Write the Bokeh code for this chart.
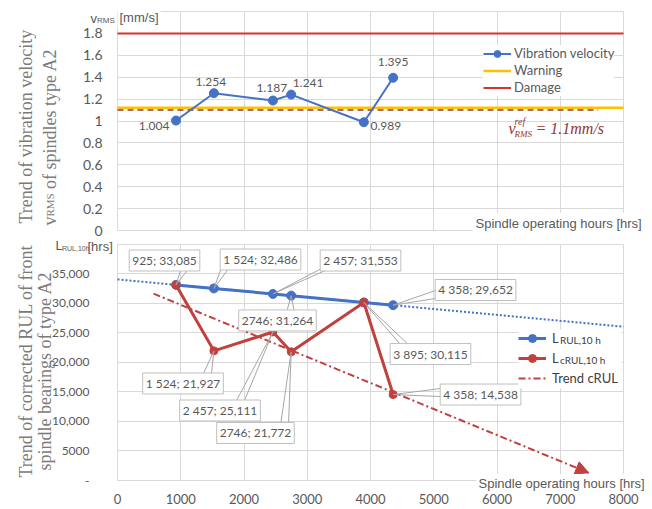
import math
from bokeh.plotting import figure
from bokeh.layouts import column
from bokeh.models import (Range1d, FixedTicker, Label, Legend, LegendItem,
                          Arrow, NormalHead, BoxAnnotation)
from bokeh.embed import file_html
from bokeh.resources import INLINE
from bokeh.core.properties import value

# ---------------- data ----------------
hours = [925, 1524, 2457, 2746, 3895, 4358]
v_rms = [1.004, 1.254, 1.187, 1.241, 0.989, 1.395]
v_rms_labels = ["1.004", "1.254", "1.187", "1.241", "0.989", "1.395"]
warning_level = 1.12
damage_level = 1.8
ref_level = 1.1
ref_line_end = 7600

l_rul = [33085, 32486, 31553, 31264, 30115, 29652]
l_crul = [33085, 21927, 25111, 21772, 30115, 14538]
l_rul_labels = ["925; 33,085", "1 524; 32,486", "2 457; 31,553",
                "2746; 31,264", "3 895; 30,115", "4 358; 29,652"]
l_crul_label_idx = [1, 2, 3, 5]
l_crul_labels = ["1 524; 21,927", "2 457; 25,111", "2746; 21,772", "4 358; 14,538"]
rul_trend_hours = [0, 8000]
rul_trend = [34010, 26010]
crul_trend_hours = [570, 7450]
crul_trend = [31600, 1300]

hour_ticks = [0, 1000, 2000, 3000, 4000, 5000, 6000, 7000, 8000]
hour_tick_labels = ["0", "1000", "2000", "3000", "4000", "5000", "6000", "7000", "8000"]
v_ticks = [0, 0.2, 0.4, 0.6, 0.8, 1.0, 1.2, 1.4, 1.6, 1.8]
v_tick_labels = ["0", "0.2", "0.4", "0.6", "0.8", "1", "1.2", "1.4", "1.6", "1.8"]
v_max = 2.0
rul_ticks = [0, 5000, 10000, 15000, 20000, 25000, 30000, 35000]
rul_tick_labels = ["-", "5000", "10,000", "15,000", "20,000", "25,000", "30,000", "35,000"]
rul_max = 40000

# ---------------- styles / layout (pixels) ----------------
BLUE = "#4472c4"
RED = "#c0413e"
YELLOW = "#ffc000"
DAMAGE = "#d9342b"
REFC = "#953735"
GRID = "#d9d9d9"
TXT = "#595959"
TITLE = "#7a7a7a"
W = 652
TOP_H = 238
BOT_H = 271
PX_X0, PX_X1 = 117, 623          # x = 0 and x = 8000
TOP_PY0, TOP_PY1 = 230, 11       # v = 0 and v = v_max (page y)
BOT_PY0, BOT_PY1 = 480, 243.5    # L = 0 and L = rul_max (page y)

kx = (hour_ticks[-1] - hour_ticks[0]) / (PX_X1 - PX_X0)
ky1 = v_max / (TOP_PY0 - TOP_PY1)
ky2 = rul_max / (BOT_PY0 - BOT_PY1)
x_rng = (hour_ticks[0] - PX_X0 * kx, hour_ticks[0] + (W - PX_X0) * kx)
top_rng = (-(TOP_H - TOP_PY0) * ky1, TOP_PY0 * ky1)
bot_rng = (-(TOP_H + BOT_H - BOT_PY0) * ky2, (BOT_PY0 - TOP_H) * ky2)


def ts(wx, wy):
    return wx, TOP_H - wy


def bs(wx, wy):
    return wx, TOP_H + BOT_H - wy


def lab(p, text, pos, size, font, color, align="left", baseline="middle",
        angle=0.0, style="normal", bg=None, pad=0, level="annotation"):
    l = Label(x=pos[0], y=pos[1], x_units="screen", y_units="screen", text=text,
              text_font=font, text_font_size=f"{size}px", text_color=color,
              text_align=align, text_baseline=baseline, angle=angle,
              text_font_style=style, level=level)
    if bg is not None:
        l.background_fill_color = bg
        l.padding = pad
    p.add_layout(l)
    return l


def make_fig(h, yr):
    p = figure(width=W, height=h, x_range=Range1d(*x_rng), y_range=Range1d(*yr),
               output_backend="svg", toolbar_location=None, min_border=0)
    p.outline_line_color = None
    for ax in p.axis:
        ax.fixed_location = 0
        ax.axis_line_color = None
        ax.major_tick_line_color = None
        ax.minor_tick_line_color = None
        ax.major_tick_out = 0
        ax.major_tick_in = 0
        ax.minor_tick_out = 0
        ax.minor_tick_in = 0
        ax.major_label_text_font = "Lato"
        ax.major_label_text_color = TXT
    for g in p.grid:
        g.grid_line_color = GRID
        g.grid_line_width = 1
    return p


# ---------------- top chart ----------------
p1 = make_fig(TOP_H, top_rng)
p1.xaxis.visible = False
p1.yaxis.ticker = FixedTicker(ticks=v_ticks)
p1.yaxis.major_label_overrides = dict(zip(v_ticks, v_tick_labels))
p1.yaxis.major_label_standoff = 15
p1.yaxis.major_label_text_font_size = "14px"
p1.xgrid.ticker = FixedTicker(ticks=hour_ticks)
p1.xgrid.cross_bounds = (0, v_max)
p1.ygrid.ticker = FixedTicker(ticks=v_ticks + [v_max])
p1.ygrid.cross_bounds = (hour_ticks[0], hour_ticks[-1])

warn_r = p1.line([hour_ticks[0], hour_ticks[-1]], [warning_level] * 2, line_color=YELLOW, line_width=2.5)
ref_r = p1.line([hour_ticks[0], ref_line_end], [ref_level] * 2, line_color=REFC,
                line_width=1.5, line_dash="6 4")
dmg_r = p1.line([hour_ticks[0], hour_ticks[-1]], [damage_level] * 2, line_color=DAMAGE, line_width=2)
vib_line = p1.line(hours, v_rms, line_color=BLUE, line_width=2)
vib_pts = p1.scatter(hours, v_rms, size=9, fill_color=BLUE, line_color=BLUE)

v_lab_off = [(-22, 5), (-3, -11), (-1, -13), (17, -12), (22, 4), (0, -16)]
p1.text(x=[h + o[0] * kx for h, o in zip(hours, v_lab_off)],
        y=[v - o[1] * ky1 for v, o in zip(v_rms, v_lab_off)],
        text=v_rms_labels, text_font=value("Lato"), text_font_size="12px",
        text_color=TXT, text_align="center", text_baseline="middle")

leg1 = Legend(items=[LegendItem(label="Vibration velocity", renderers=[vib_line, vib_pts]),
                     LegendItem(label="Warning", renderers=[warn_r]),
                     LegendItem(label="Damage", renderers=[dmg_r])],
              location=ts(483, 95.5), background_fill_color="white", background_fill_alpha=1,
              border_line_color=None, padding=2, spacing=0, margin=0, glyph_width=28,
              glyph_height=17, label_height=17, label_standoff=3,
              label_text_font="Lato", label_text_font_size="13px", label_text_color=TXT)
p1.add_layout(leg1)

lab(p1, "v", ts(90, 17.5), 13, "Liberation Sans", TXT)
lab(p1, "RMS", ts(96.5, 19.5), 8, "Liberation Sans", TXT)
lab(p1, "[mm/s]", ts(117, 17), 13, "Liberation Sans", TXT, bg="white", pad=2)
lab(p1, "Spindle operating hours [hrs]", ts(472, 223), 13, "Liberation Sans", TXT,
    bg="white", pad=3)

lab(p1, "v", ts(508, 128), 16, "Liberation Serif", REFC, style="italic")
lab(p1, "ref", ts(514, 121), 10, "Liberation Serif", REFC, style="italic")
lab(p1, "RMS", ts(514, 133), 9, "Liberation Serif", REFC, style="italic")
lab(p1, "= 1.1mm/s", ts(535, 128), 16, "Liberation Serif", REFC, style="italic")

A = math.pi / 2
lab(p1, "Trend of vibration velocity", ts(25, 223), 18, "Liberation Serif", TITLE,
    baseline="alphabetic", angle=A)
lab(p1, "v", ts(49, 225), 18, "Liberation Serif", TITLE, baseline="alphabetic", angle=A)
lab(p1, "RMS", ts(49, 216), 11, "Liberation Serif", TITLE, baseline="alphabetic", angle=A)
lab(p1, "of spindles type A2", ts(49, 188.5), 18, "Liberation Serif", TITLE,
    baseline="alphabetic", angle=A)

# ---------------- bottom chart ----------------
p2 = make_fig(BOT_H, bot_rng)
p2.xaxis.ticker = FixedTicker(ticks=hour_ticks)
p2.xaxis.major_label_overrides = dict(zip(hour_ticks, hour_tick_labels))
p2.xaxis.major_label_standoff = 13
p2.xaxis.major_label_text_font_size = "13px"
p2.yaxis.ticker = FixedTicker(ticks=rul_ticks)
p2.yaxis.major_label_overrides = dict(zip(rul_ticks, rul_tick_labels))
p2.yaxis.major_label_standoff = 28
p2.yaxis.major_label_text_font_size = "12px"
p2.xgrid.ticker = FixedTicker(ticks=hour_ticks)
p2.xgrid.cross_bounds = (0, rul_max)
p2.ygrid.ticker = FixedTicker(ticks=rul_ticks + [rul_max])
p2.ygrid.cross_bounds = (hour_ticks[0], hour_ticks[-1])

rul_trend_r = p2.line(rul_trend_hours, rul_trend, line_color=BLUE, line_width=2, line_dash="2 2")
crul_trend_r = p2.line(crul_trend_hours, crul_trend, line_color=RED, line_width=2,
                       line_dash="7 3 2 3")
p2.add_layout(Arrow(end=NormalHead(size=13, fill_color=RED, line_color=RED),
                    x_start=crul_trend_hours[0], y_start=crul_trend[0],
                    x_end=crul_trend_hours[-1], y_end=crul_trend[-1], line_alpha=0))
rul_line = p2.line(hours, l_rul, line_color=BLUE, line_width=3)
rul_pts = p2.scatter(hours, l_rul, size=9, fill_color=BLUE, line_color=BLUE)
crul_line = p2.line(hours, l_crul, line_color=RED, line_width=3)
crul_pts = p2.scatter(hours, l_crul, size=8, fill_color=RED, line_color=RED)

# callout box offsets / leader attach offsets (px, +down) and wedge direction
rul_box = [(-11.5, -24.4), (46.6, -28.9), (87.6, -33.4), (-13.7, 24.8), (66.6, 51.6), (82.4, -15.2)]
rul_att = [(9.5, -17.4), (11.6, -20.9), (52.6, -25.4), (-0.7, 16.8), (41.6, 43.1), (42.4, -10.7)]
rul_dir = ["h", "h", "h", "h", "h", "v"]
crul_box = [(-30.9, 32.6), (-52.9, 78.5), (-35.7, 81.2), (87.4, 0)]
crul_att = [(-6.4, 22.6), (-32.4, 68.5), (-6.7, 73.7), (47.4, -2)]
crul_dir = ["h", "h", "h", "v"]

cx, cy, ctext = [], [], []
sx0, sy0, sx1, sy1 = [], [], [], []


def add_callout(h, val, text, box, att, d):
    cx.append(h + box[0] * kx)
    cy.append(val - box[1] * ky2)
    ctext.append(text)
    for s in (-4, 4):
        ax = att[0] + (s if d == "h" else 0)
        ay = att[1] + (s if d == "v" else 0)
        sx0.append(h)
        sy0.append(val)
        sx1.append(h + ax * kx)
        sy1.append(val - ay * ky2)


for i in range(len(hours)):
    add_callout(hours[i], l_rul[i], l_rul_labels[i], rul_box[i], rul_att[i], rul_dir[i])
for j, i in enumerate(l_crul_label_idx):
    add_callout(hours[i], l_crul[i], l_crul_labels[j], crul_box[j], crul_att[j], crul_dir[j])

p2.segment(x0=sx0, y0=sy0, x1=sx1, y1=sy1, line_color="#a6a6a6", line_width=1)
p2.text(x=cx, y=cy, text=ctext, text_font=value("Lato"), text_font_size="12px",
        text_color=TXT, text_align="center", text_baseline="middle",
        background_fill_color="white", border_line_color="#bfbfbf", border_line_width=1,
        padding=3)

# white backdrop for the bottom legend (legend itself is transparent)
lx0, ly0 = bs(518, 388)
lx1, ly1 = bs(621, 329)
p2.add_layout(BoxAnnotation(left=lx0, right=lx1, bottom=ly0, top=ly1,
                            left_units="screen", right_units="screen",
                            bottom_units="screen", top_units="screen",
                            fill_color="white", fill_alpha=1, line_color=None))
leg2 = Legend(items=[LegendItem(label="L", renderers=[rul_line, rul_pts]),
                     LegendItem(label="L", renderers=[crul_line, crul_pts]),
                     LegendItem(label="Trend cRUL", renderers=[crul_trend_r])],
              location=bs(518, 388), background_fill_alpha=0,
              border_line_color=None, padding=2, spacing=0, margin=0, glyph_width=28,
              glyph_height=20, label_height=20, label_standoff=6,
              label_text_font="Lato", label_text_font_size="13px", label_text_color="#404040")
p2.add_layout(leg2)
lab(p2, "RUL,10 h", bs(559.5, 339), 10, "Lato", "#404040", level="overlay")
lab(p2, "cRUL,10 h", bs(559.5, 359), 10, "Lato", "#404040", level="overlay")

lab(p2, "L", bs(55, 245), 13, "Liberation Sans", TXT)
lab(p2, "RUL,10h", bs(61.5, 248), 7, "Liberation Sans", TXT)
lab(p2, "[hrs]", bs(87, 246), 13, "Liberation Sans", TXT)
lab(p2, "Spindle operating hours [hrs]", bs(476, 483), 13, "Liberation Sans", TXT,
    bg="white", pad=2)

lab(p2, "Trend of corrected RUL of front", bs(25, 477), 18, "Liberation Serif", TITLE,
    baseline="alphabetic", angle=A)
lab(p2, "spindle bearings of type A2", bs(44, 470), 18, "Liberation Serif", TITLE,
    baseline="alphabetic", angle=A)

layout = column(p1, p2, spacing=0)
open("out.html", "w").write(file_html(layout, INLINE))
